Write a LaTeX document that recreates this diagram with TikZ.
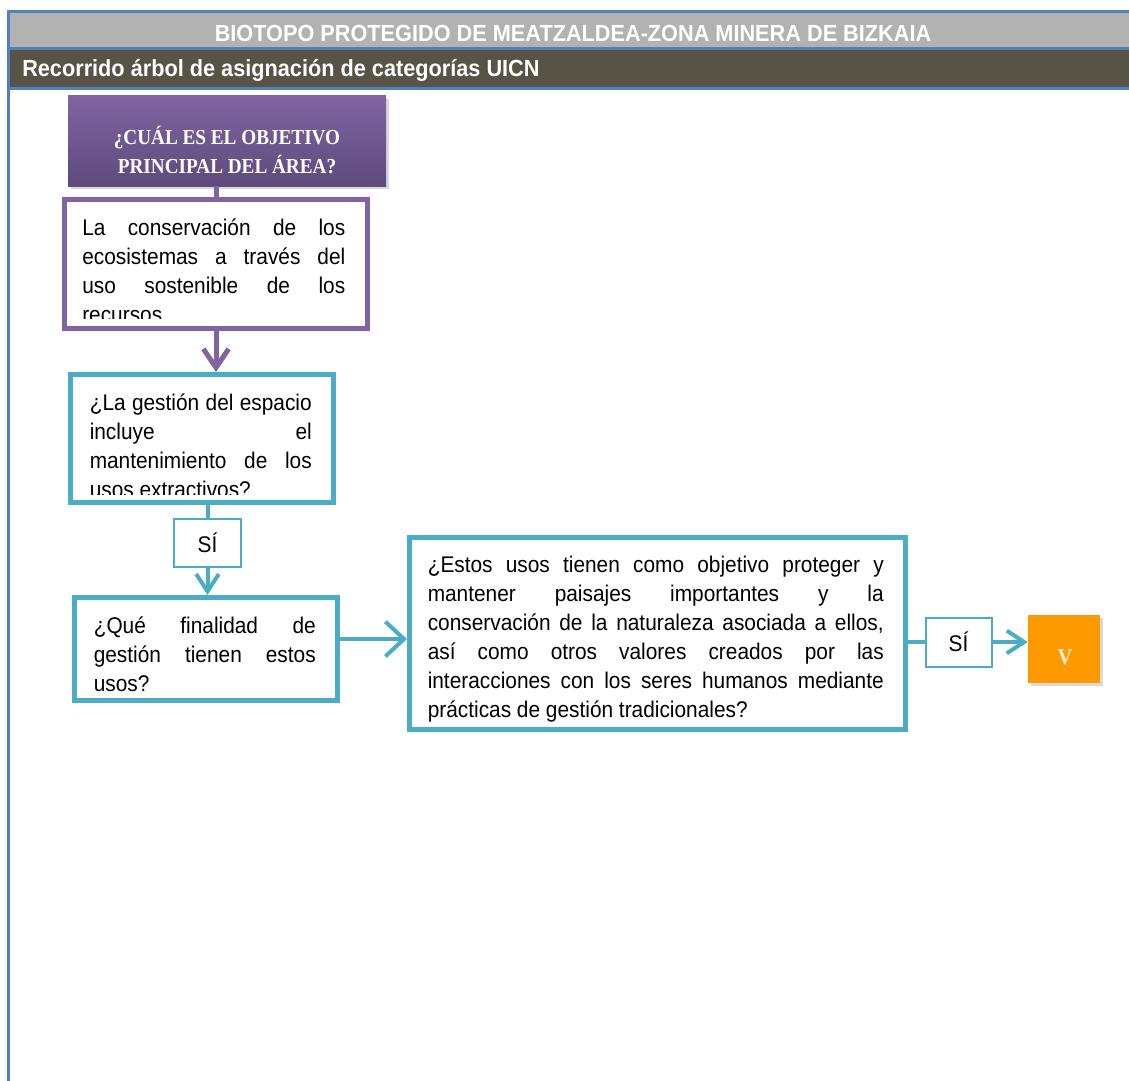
\documentclass[tikz,border=0pt]{standalone}
\usepackage{fontspec}
\setmainfont{Liberation Sans}
\newfontfamily\narrowfont[FakeStretch=0.92]{Liberation Sans}
\newfontfamily\headfont[FakeStretch=0.93]{Liberation Sans}
\newfontfamily\titlefont[FakeStretch=0.9]{Liberation Serif}
\usetikzlibrary{arrows.meta,shadows,positioning}
\definecolor{frameblue}{HTML}{4F81BD}
\definecolor{bandgray}{HTML}{B2B2B2}
\definecolor{banddark}{HTML}{575346}
\definecolor{uicnpurple}{HTML}{8064A2}
\definecolor{uicnpurpledark}{HTML}{5E4A7C}
\definecolor{uicnteal}{HTML}{4BACC6}
\definecolor{uicnorange}{HTML}{FF9900}
\definecolor{vcream}{HTML}{FFF3DC}
\newcommand{\cuerpotexto}{\narrowfont\fontsize{17}{21.75}\selectfont\tolerance=10000\relax\hyphenpenalty=10000\relax}
\begin{document}
\begin{tikzpicture}[x=0.75pt,y=-0.75pt,
  frame/.style={frameblue, line width=2.25pt},
  box/.style={draw=uicnteal, line width=3.75pt, fill=white, inner sep=0pt},
  pbox/.style={box, draw=uicnpurple},
  sibox/.style={draw=uicnteal, line width=1.5pt, fill=white, inner sep=0pt,
    font=\narrowfont\fontsize{17}{20}\selectfont},
  body/.style={inner sep=0pt, anchor=base west, align=justify, font=\cuerpotexto},
  tealline/.style={draw=uicnteal, line width=3pt},
  tealarrow/.style={tealline, -{Straight Barb[length=13pt,width=17pt]}},
  purplearrow/.style={draw=uicnpurple, line width=3.75pt, -{Straight Barb[length=14pt,width=19pt]}}]
\useasboundingbox (0,0) rectangle (1129,1081);
% cabecera
\fill[bandgray] (8,13) rectangle (1129,48);
\fill[banddark] (8,50) rectangle (1129,87);
\draw[frame] (1129,12) -- (8,12) -- (8,1081);
\draw[frame] (8,49) -- (1129,49);
\draw[frame] (8,88.5) -- (1129,88.5);
\node[text=white, font=\headfont\bfseries\fontsize{17.5}{20}\selectfont] (titulo) at (573,33)
  {BIOTOPO PROTEGIDO DE MEATZALDEA-ZONA MINERA DE BIZKAIA};
\node[text=white, anchor=west, inner sep=0pt, font=\headfont\bfseries\fontsize{17.5}{20}\selectfont] (subtitulo) at (22,70)
  {Recorrido árbol de asignación de categorías UICN};
% cajas
\node[inner sep=0pt, top color=uicnpurple, bottom color=uicnpurpledark,
  drop shadow={shadow xshift=2pt, shadow yshift=-2.5pt, opacity=0.3},
  minimum width=238.5pt, minimum height=67.5pt] (objetivo) at (227,141) {};
\node[text=white, align=center, font=\titlefont\bfseries\fontsize{16}{21.75}\selectfont] (objetivotxt) at (227,150)
  {¿CUÁL ES EL OBJETIVO\\PRINCIPAL DEL ÁREA?};
\node[pbox, minimum width=227.25pt, minimum height=96.75pt] (conservacion) at (216,264) {};
\node[box, minimum width=197.25pt, minimum height=96pt] (gestion) at (202,438.5) {};
\node[sibox, minimum width=50.25pt, minimum height=36pt] (si1) at (207.5,543) {SÍ};
\node[box, minimum width=197.25pt, minimum height=77.25pt] (finalidad) at (206,649) {};
\node[box, minimum width=372pt, minimum height=144pt] (paisajes) at (657.5,633.5) {};
\node[sibox, minimum width=49.5pt, minimum height=36.75pt] (si2) at (958.5,642) {SÍ};
\node[fill=uicnorange, inner sep=0pt, minimum width=54pt, minimum height=51pt,
  drop shadow={shadow xshift=2pt, shadow yshift=-2.5pt, opacity=0.3}] (catV) at (1064,649) {};
\node[text=vcream, font=\titlefont\bfseries\fontsize{17}{18}\selectfont] (catVtxt) at (1065,657) {V};
% textos
\begin{scope}
\clip ([shift={(4,4)}]conservacion.north west) rectangle ([shift={(-4,-13)}]conservacion.south east);
\node[body, text width=197.25pt] (conservaciontxt) at ([shift={(20,38.5)}]conservacion.north west)
  {La conservación de los\linebreak ecosistemas a través del\linebreak uso sostenible de los\linebreak recursos};
\end{scope}
\begin{scope}
\clip ([shift={(4,4)}]gestion.north west) rectangle ([shift={(-4,-10.5)}]gestion.south east);
\node[body, text width=166.5pt] (gestiontxt) at ([shift={(21.5,38.5)}]gestion.north west)
  {¿La gestión del espacio\linebreak incluye el\linebreak mantenimiento de los\linebreak usos extractivos?};
\end{scope}
\node[body, text width=166.5pt] (finalidadtxt) at ([shift={(21.5,38.5)}]finalidad.north west)
  {¿Qué finalidad de\linebreak gestión tienen estos\linebreak usos?};
\begin{scope}
\clip ([shift={(4,4)}]paisajes.north west) rectangle ([shift={(-4,-11)}]paisajes.south east);
\node[body, text width=342pt] (paisajestxt) at ([shift={(20.5,37.5)}]paisajes.north west)
  {¿Estos usos tienen como objetivo proteger y\linebreak mantener paisajes importantes y la\linebreak
   conservación de la naturaleza asociada a ellos,\linebreak así como otros valores creados por las\linebreak
   interacciones con los seres humanos mediante\linebreak prácticas de gestión tradicionales?};
\end{scope}
% conectores
\draw[uicnpurple, line width=3.75pt] (conservacion.north |- objetivo.south) -- (conservacion.north);
\draw[purplearrow] (conservacion.south) -- (conservacion.south |- gestion.north);
\draw[tealline] (si1.north |- gestion.south) -- (si1.north);
\draw[tealarrow] (si1.south) -- (si1.south |- finalidad.north);
\draw[tealline, -{Straight Barb[length=14pt,width=26pt]}] ([yshift=7.5pt]finalidad.east) -- ([yshift=7.5pt]finalidad.east -| paisajes.west);
\draw[tealline] (si2.west -| paisajes.east) -- (si2.west);
\draw[tealarrow] (si2.east) -- (si2.east -| catV.west);
\end{tikzpicture}
\end{document}
